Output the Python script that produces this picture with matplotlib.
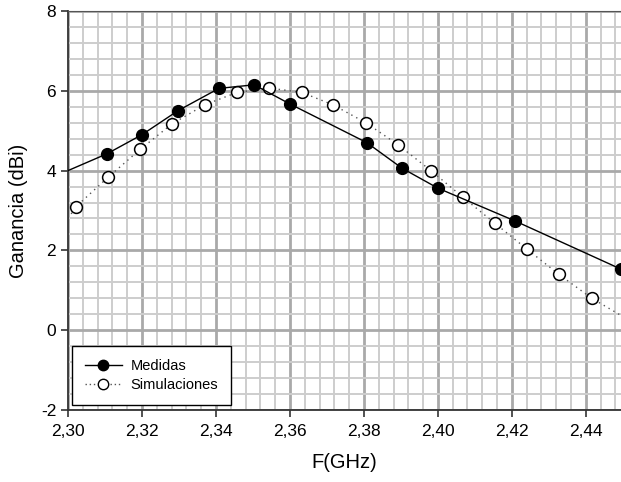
import matplotlib.pyplot as plt
from matplotlib.ticker import MultipleLocator, FuncFormatter

plt.rcParams['font.family'] = ['Liberation Sans', 'DejaVu Sans']

# measured gain (first point is only the start of the curve, no marker)
freq_med = [2.300, 2.3105, 2.3200, 2.3297, 2.3408, 2.3503, 2.3600,
            2.3808, 2.3903, 2.4000, 2.4208, 2.4495]
gain_med = [4.00, 4.42, 4.90, 5.50, 6.06, 6.15, 5.67,
            4.70, 4.06, 3.56, 2.74, 1.53]

# simulated gain
freq_sim = [2.3022, 2.3108, 2.3195, 2.3281, 2.3370, 2.3457, 2.3544,
            2.3632, 2.3716, 2.3805, 2.3892, 2.3981, 2.4068, 2.4154,
            2.4241, 2.4327, 2.4416]
gain_sim = [3.10, 3.83, 4.53, 5.17, 5.65, 5.96, 6.07,
            5.96, 5.65, 5.20, 4.65, 4.00, 3.33, 2.68,
            2.03, 1.40, 0.80]
# where the dotted curve runs off the plot on both sides
sim_edges_x = [2.300, 2.4495]
sim_edges_y = [2.80, 0.37]

fig = plt.figure(figsize=(6.21, 4.82), dpi=100)
ax = fig.add_axes([68/621, 72/482, 553/621, 399/482])

ax.set_xlim(2.30, 2.4495)
ax.set_ylim(-2, 8)

ax.xaxis.set_major_locator(MultipleLocator(0.02))
ax.xaxis.set_minor_locator(MultipleLocator(0.004))
ax.yaxis.set_major_locator(MultipleLocator(2))
ax.yaxis.set_minor_locator(MultipleLocator(0.4))

ax.grid(which='minor', color='#cdcdcd', linewidth=1.4, zorder=0)
ax.grid(which='major', color='#a9a9a9', linewidth=2.0, zorder=0)
ax.set_axisbelow(True)

ax.xaxis.set_major_formatter(FuncFormatter(lambda v, p: ('%.2f' % v).replace('.', ',')))
ax.yaxis.set_major_formatter(FuncFormatter(lambda v, p: '%d' % round(v)))
ax.tick_params(which='minor', length=0)
ax.tick_params(which='major', direction='out', length=5, width=1.2,
               labelsize=12.5, color='#333333')
ax.tick_params(axis='x', pad=5)

for s in ['left', 'bottom']:
    ax.spines[s].set_color('#333333')
    ax.spines[s].set_linewidth(1.3)
ax.spines['top'].set_color('#555555')
ax.spines['right'].set_visible(False)

# dotted simulation curve
sx = [sim_edges_x[0]] + freq_sim + [sim_edges_x[1]]
sy = [sim_edges_y[0]] + gain_sim + [sim_edges_y[1]]
ax.plot(sx, sy, linestyle=(0, (1, 3)), color='#555555', linewidth=1.0,
        zorder=2, clip_on=True)
ax.plot(freq_sim, gain_sim, linestyle='none', marker='o', markersize=8.5,
        markerfacecolor='white', markeredgecolor='black', markeredgewidth=1.1,
        zorder=3)

# solid measured curve
ax.plot(freq_med, gain_med, color='black', linewidth=1.0, zorder=4)
ax.plot(freq_med[1:], gain_med[1:], linestyle='none', marker='o', markersize=8.5,
        color='black', zorder=5, clip_on=False)

# legend proxies
h1, = ax.plot([], [], color='black', linewidth=1.0, marker='o', markersize=7.5,
              label='Medidas')
h2, = ax.plot([], [], color='#555555', linestyle=(0, (1, 2)), linewidth=1.0,
              marker='o', markersize=7.5, markerfacecolor='white',
              markeredgecolor='black', label='Simulaciones')
leg = ax.legend(handles=[h1, h2], loc='lower left',
                bbox_to_anchor=(4/553, 5/399), borderaxespad=0,
                fontsize=10.5, frameon=True,
                fancybox=False, edgecolor='black', framealpha=1,
                handlelength=2.5, handletextpad=0.6, borderpad=0.9,
                labelspacing=0.3)
leg.get_frame().set_linewidth(1.0)

ax.set_xlabel('F(GHz)', fontsize=14.5, labelpad=10)
ax.set_ylabel('Ganancia (dBi)', fontsize=14.5, labelpad=9)

fig.savefig('out.png', dpi=100)
